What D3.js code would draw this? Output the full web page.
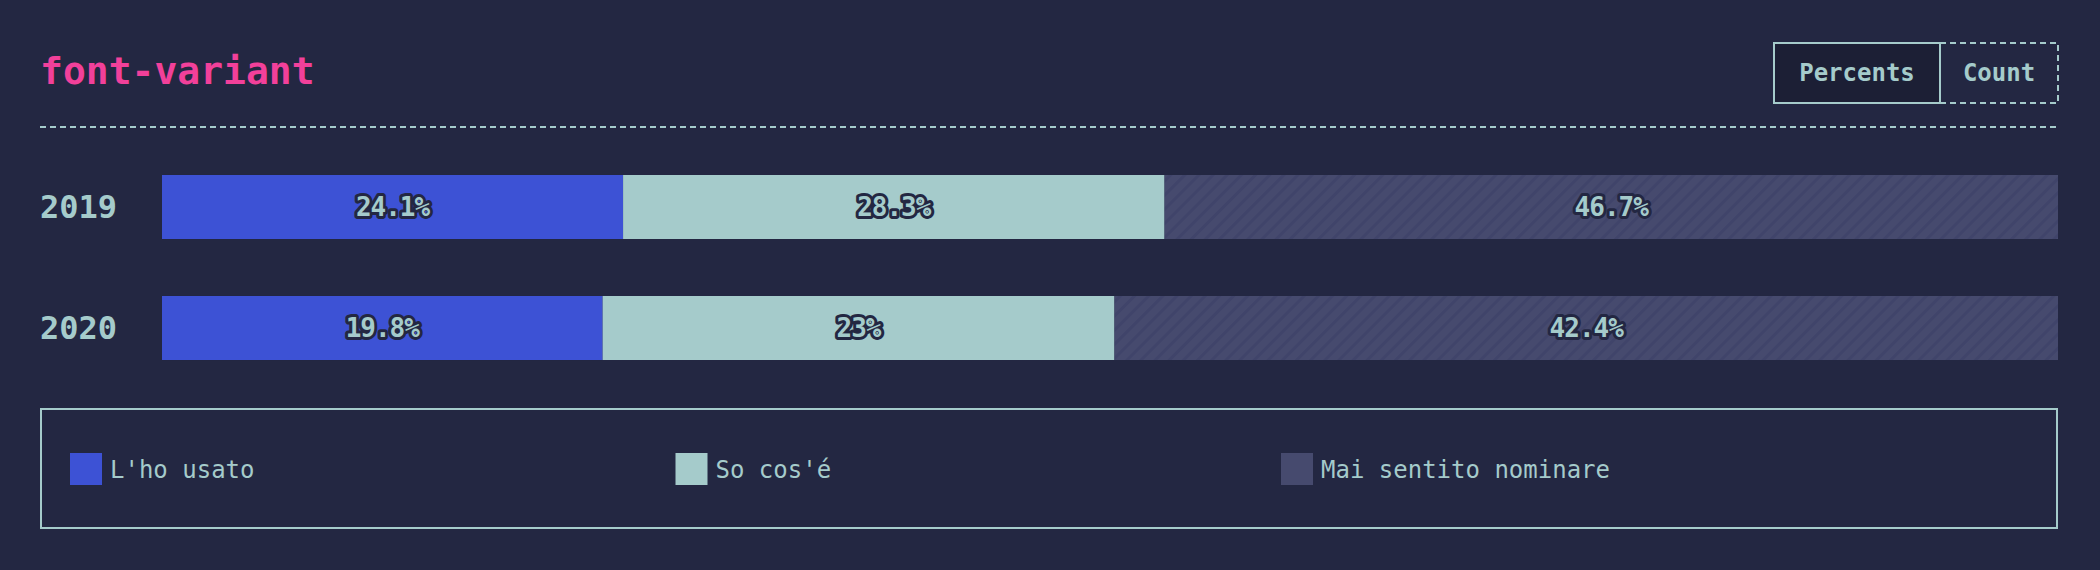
<!DOCTYPE html>
<html lang="en">
<head>
<meta charset="utf-8">
<title>font-variant</title>
<script src="https://cdnjs.cloudflare.com/ajax/libs/d3/7.0.0/d3.min.js"></script>
<style>
  body { margin: 0; background: #232742; }
  text { font-family: "DejaVu Sans Mono", "Liberation Mono", monospace; }
</style>
</head>
<body>
<script>
// data
const years = ["2019", "2020"];
const seriesNames = ["L'ho usato", "So cos'é", "Mai sentito nominare"];
const values2019 = [24.1, 28.3, 46.7];
const values2020 = [19.8, 23, 42.4];
const valueLabels = [["24.1%", "28.3%", "46.7%"], ["19.8%", "23%", "42.4%"]];
const buttons = ["Percents", "Count"];

const rows = [values2019, values2020];
const colors = ["#3d52d5", "#a5cbcb", "url(#hatch)"];
const swatchColors = ["#3d52d5", "#a5cbcb", "#464a6e"];

const w = 2100, h = 570;
const light = "#a5cbcb", bg = "#232742";

const svg = d3.select("body").append("svg").attr("width", w).attr("height", h);

// hatch pattern
const pat = svg.append("defs").append("pattern")
  .attr("id", "hatch").attr("patternUnits", "userSpaceOnUse")
  .attr("width", 10).attr("height", 10)
  .attr("patternTransform", "rotate(45)");
pat.append("rect").attr("width", 10).attr("height", 10).attr("fill", "#464a6e");
pat.append("rect").attr("width", 3).attr("height", 10).attr("fill", "#40446a");

// title
svg.append("text").attr("x", 40).attr("y", 84)
  .attr("fill", "#f2409a").attr("font-size", 38).attr("font-weight", "bold")
  .text("font-variant");

// buttons
const bx = d3.scaleOrdinal().domain(buttons).range([1774, 1940]);
const bw = { "Percents": 166, "Count": 118 };
buttons.forEach((b, i) => {
  svg.append("rect").attr("x", bx(b)).attr("y", 43).attr("width", bw[b]).attr("height", 60)
    .attr("fill", i === 0 ? "#1c1f35" : "none").attr("stroke", light).attr("stroke-width", 2)
    .attr("stroke-dasharray", i === 0 ? null : "6,4");
  svg.append("text").attr("x", bx(b) + bw[b] / 2).attr("y", 81)
    .attr("text-anchor", "middle").attr("fill", light).attr("font-size", 24).attr("font-weight", "bold")
    .text(b);
});

// separator
svg.append("line").attr("x1", 40).attr("x2", 2058).attr("y1", 127).attr("y2", 127)
  .attr("stroke", light).attr("stroke-width", 2).attr("stroke-dasharray", "6,4");

// scales
const y = d3.scaleBand().domain(years).range([146.5, 388.5]).paddingInner(0.471).paddingOuter(0.2355);
const x = d3.scaleLinear().domain([0, 1]).range([162, 2058]);

years.forEach((yr, ri) => {
  const vals = rows[ri];
  const total = d3.sum(vals);
  const stacked = d3.cumsum([0].concat(vals)).map(v => v / total);
  const g = svg.append("g");
  g.append("text").attr("x", 40).attr("y", y(yr) + y.bandwidth() / 2 + 11)
    .attr("fill", light).attr("font-size", 32).attr("font-weight", "bold").text(yr);
  g.selectAll("rect").data(vals).enter().append("rect")
    .attr("x", (d, i) => x(stacked[i]))
    .attr("width", (d, i) => x(stacked[i + 1]) - x(stacked[i]))
    .attr("y", y(yr)).attr("height", y.bandwidth())
    .attr("fill", (d, i) => colors[i]);
  g.selectAll("text.lbl").data(vals).enter().append("text").attr("class", "lbl")
    .attr("x", (d, i) => (x(stacked[i]) + x(stacked[i + 1])) / 2)
    .attr("y", y(yr) + y.bandwidth() / 2 + 9)
    .attr("text-anchor", "middle").attr("font-size", 26).attr("font-weight", "bold")
    .attr("letter-spacing", -1)
    .attr("fill", light).attr("stroke", bg).attr("stroke-width", 6)
    .attr("paint-order", "stroke").attr("stroke-linejoin", "round")
    .text((d, i) => valueLabels[ri][i]);
});

// legend
svg.append("rect").attr("x", 41).attr("y", 409).attr("width", 2016).attr("height", 119)
  .attr("fill", "none").attr("stroke", light).attr("stroke-width", 2);
const lx = d3.scalePoint().domain(seriesNames).range([70, 1281]);
const lg = svg.selectAll("g.leg").data(seriesNames).enter().append("g").attr("class", "leg")
  .attr("transform", d => `translate(${lx(d)},453)`);
lg.append("rect").attr("width", 32).attr("height", 32).attr("fill", (d, i) => swatchColors[i]);
lg.append("text").attr("x", 40).attr("y", 25).attr("fill", light).attr("font-size", 24).text(d => d);
</script>
</body>
</html>
